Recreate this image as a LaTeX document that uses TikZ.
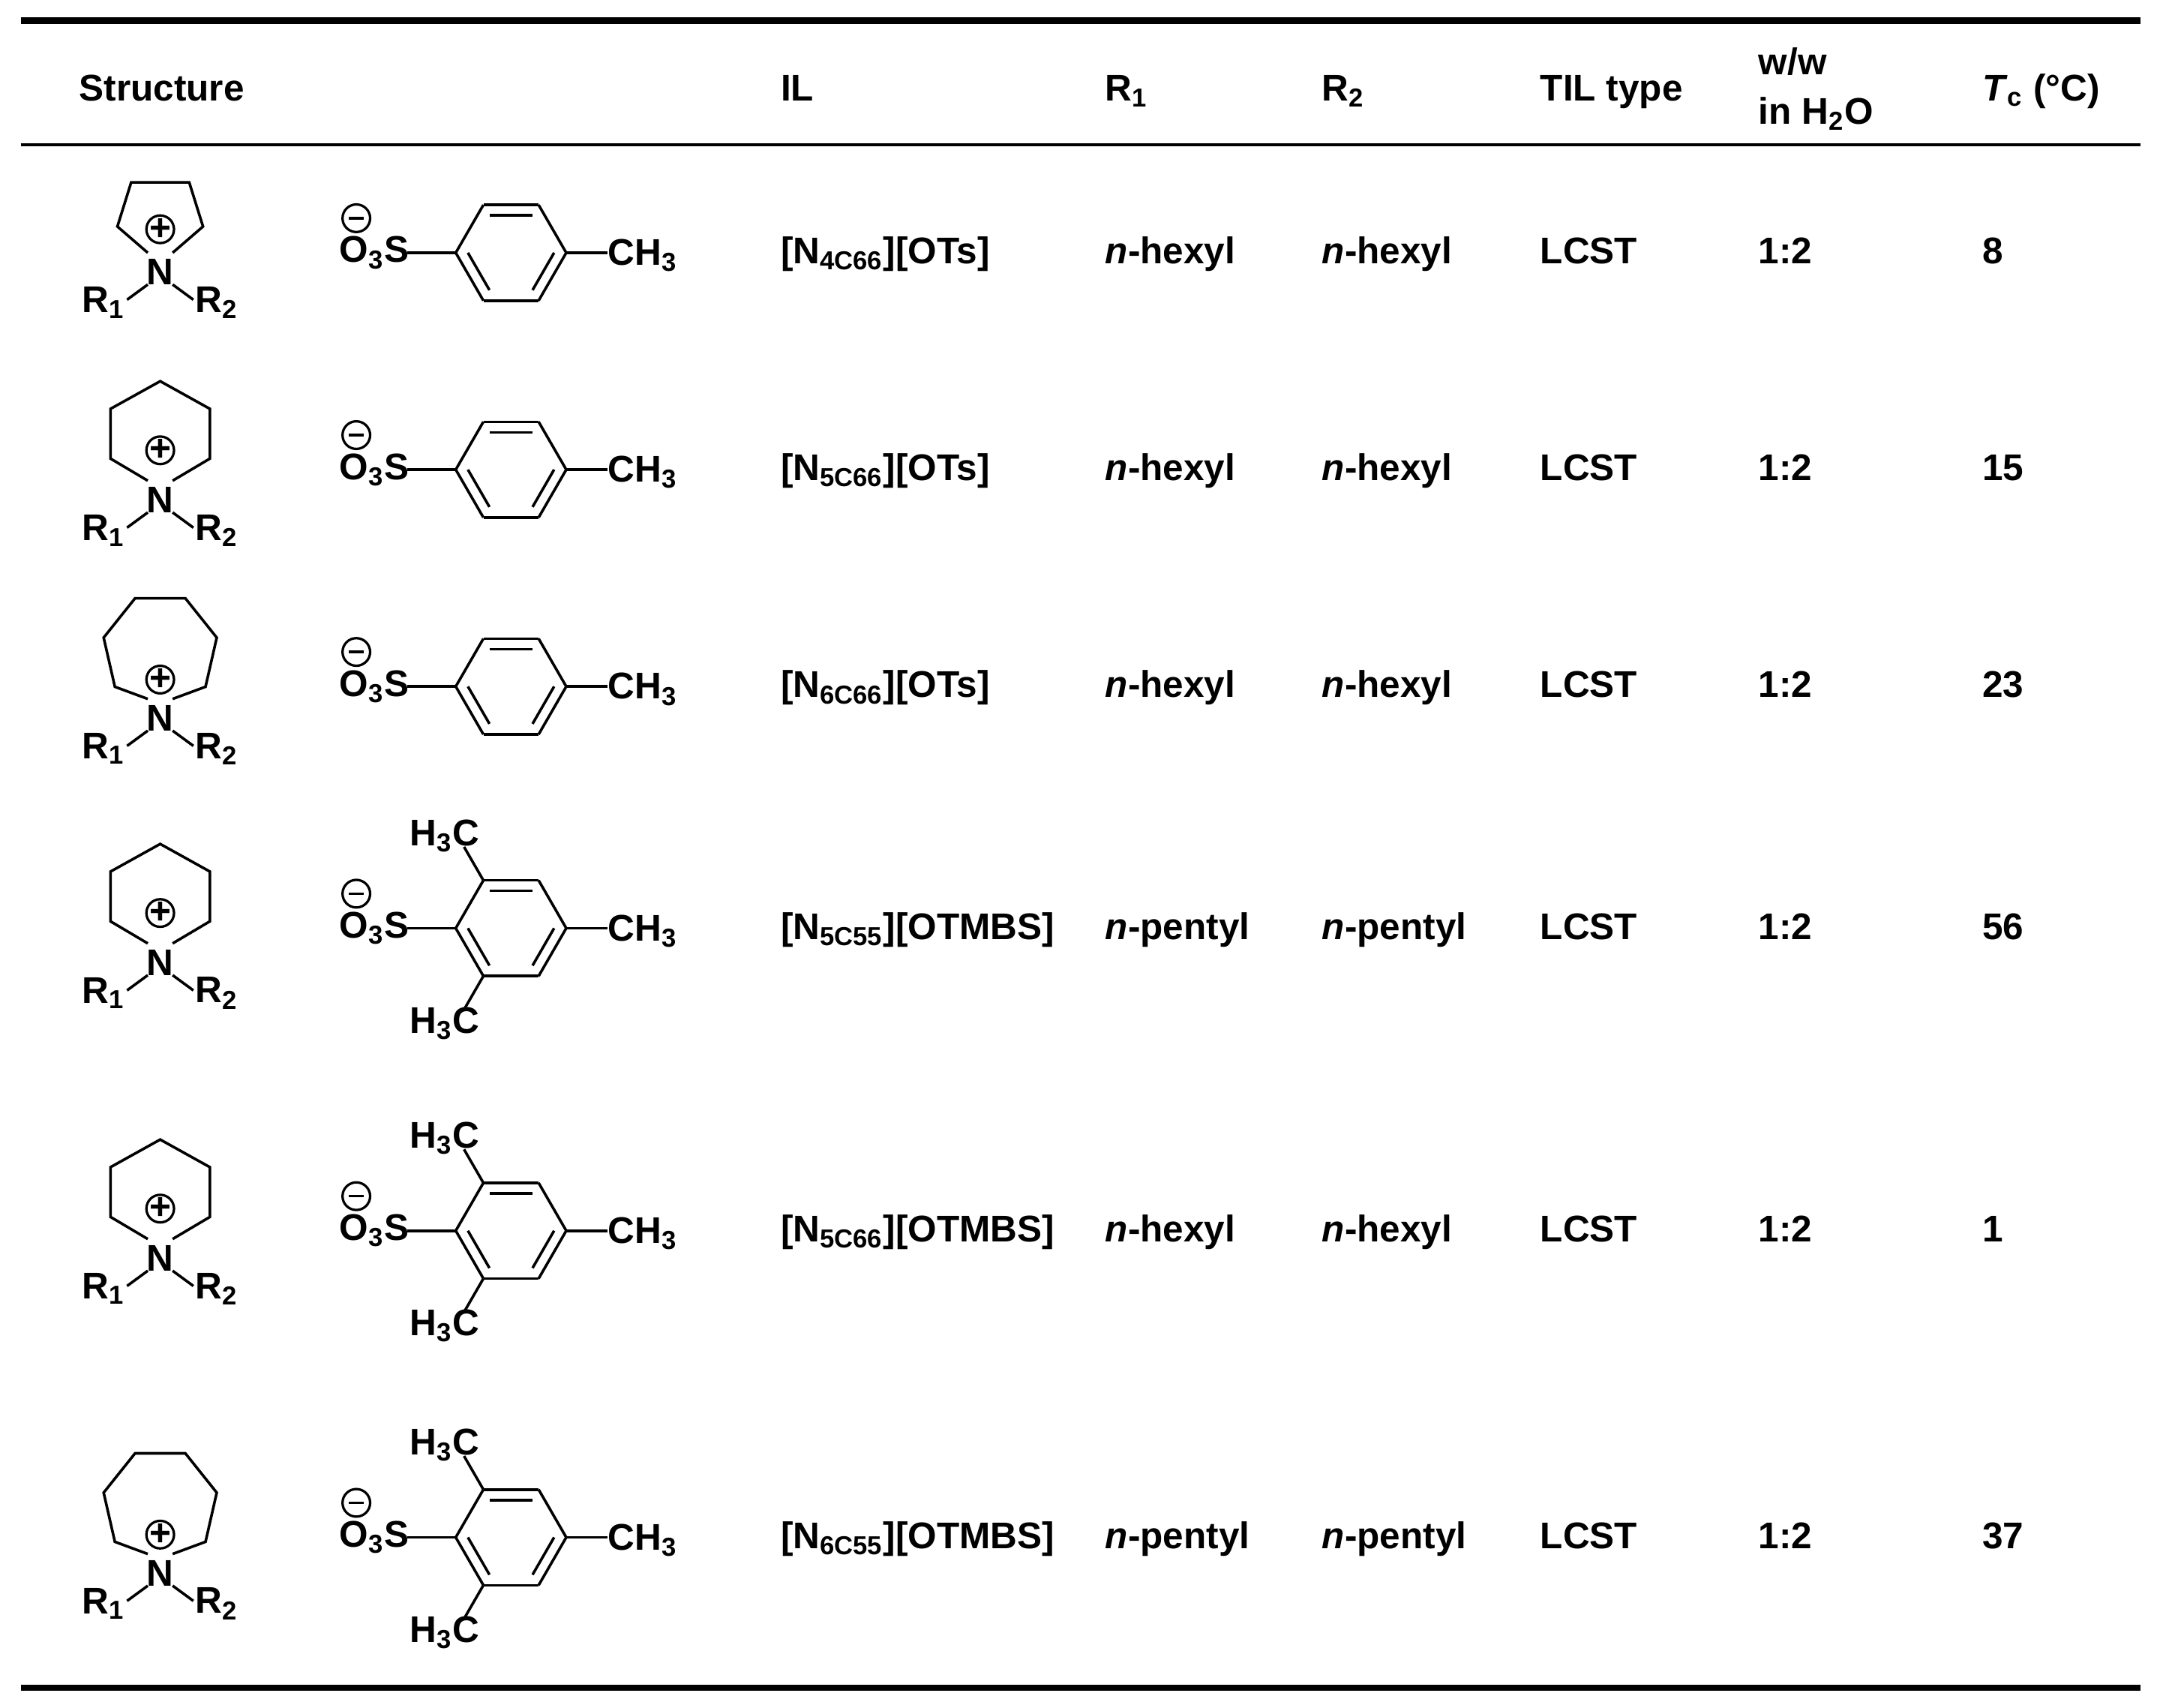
\documentclass[tikz,border=0pt]{standalone}
\usepackage{fontspec}
\setmainfont{Liberation Sans}
\usetikzlibrary{calc}
\newcommand{\sub}[1]{\textsubscript{#1}}
\newcommand{\cat}[3]{% type, x, y of N
 \begin{scope}[shift={(#2,#3)}]
 \node[lab] at (0,0) {N};
 \ifcase#1\or
  \draw[bond] (-9,-14)--(-31,-33)--(-21,-65)--(21,-65)--(31,-33)--(9,-14);
  \node[pm] at (0,-31) {};\node[lab] at (0,-31) {+};
 \or
  \draw[bond] (-9,-14)--(-36,-30)--(-36,-66)--(0,-86)--(36,-66)--(36,-30)--(9,-14);
  \node[pm] at (0,-36) {};\node[lab] at (0,-36) {+};
 \or
  \coordinate (c) at (0,-49);
  \draw[bond] (-9,-14)--($(c)+(141.4:42)$)--($(c)+(192.9:42)$)--($(c)+(244.3:42)$)--($(c)+(295.7:42)$)--($(c)+(347.1:42)$)--($(c)+(38.6:42)$)--(9,-14);
  \node[pm] at (0,-28) {};\node[lab] at (0,-28) {+};
 \fi
 \draw[bond] (-9,9)--(-24,20);\draw[bond] (9,9)--(24,20);
 \node[lab] at (-41,22) {R\sub{1}};
 \node[lab] at (41,22) {R\sub{2}};
 \end{scope}}
\newcommand{\ani}[3]{% mesityl?, y
 \begin{scope}[shift={(370,#2)}]
 \node[lab] at (-99,0) {O\sub{3}S};
 \node[pm] at (-112,-25) {};
 \draw[line width=1.1pt] (-117.5,-25)--(-106.5,-25);
 \draw[bond] (-75,0)--(-40,0);
 \foreach \a/\b in {0/60,60/120,120/180,180/240,240/300,300/360} \draw[bond] (\a:40)--(\b:40);
 \foreach \a/\b in {240/300,120/180,0/60} \draw[bond] ($(0,0)!0.78!(\a:40)$)--($(0,0)!0.78!(\b:40)$);
 \draw[bond] (40,0)--(70,0);
 \node[lab,anchor=west] at (70,2) {CH\sub{3}};
 \ifnum#1=1
  \draw[bond] (240:40)--(240:68);
  \draw[bond] (120:40)--(120:68);
  \node[lab] at (-48,-67) {H\sub{3}C};
  \node[lab] at (-48,69) {H\sub{3}C};
 \fi
 \end{scope}}
\begin{document}
\begin{tikzpicture}[x=0.02cm,y=-0.02cm,
 lab/.style={font=\fontsize{15.3}{18}\selectfont\bfseries,inner sep=0pt},
 pm/.style={draw,circle,minimum size=0.4cm,inner sep=0pt,line width=1pt},
 bond/.style={line width=1.1pt},
 rule/.style={line width=2.6pt}]
\useasboundingbox (0,0) rectangle (1564,1236);
\draw[rule] (15,15)--(1550,15);
\draw[line width=1.3pt] (15,105)--(1550,105);
\draw[rule] (15,1222)--(1550,1222);
\begin{scope}[every node/.style={lab,anchor=base west}]
\node at (57,73) {Structure};
\node at (565,73) {IL};
\node at (800,73) {R\sub{1}};
\node at (957,73) {R\sub{2}};
\node at (1115,73) {TIL type};
\node at (1273,54) {w/w};
\node at (1273,90) {in H\sub{2}O};
\node at (1435,73) {\textit{T}\sub{c} (°C)};
\foreach \y/\il/\r/\t in {183/{[N\sub{4C66}][OTs]}/hexyl/8, 340/{[N\sub{5C66}][OTs]}/hexyl/15, 497/{[N\sub{6C66}][OTs]}/hexyl/23, 672/{[N\sub{5C55}][OTMBS]}/pentyl/56, 891/{[N\sub{5C66}][OTMBS]}/hexyl/1, 1113/{[N\sub{6C55}][OTMBS]}/pentyl/37}{
 \node at (565,\y+8) {\il};
 \node at (800,\y+8) {\textit{n}-\r};
 \node at (957,\y+8) {\textit{n}-\r};
 \node at (1115,\y+8) {LCST};
 \node at (1273,\y+8) {1:2};
 \node at (1435,\y+8) {\t};
}
\end{scope}
\cat{1}{116}{197}\cat{2}{116}{362}\cat{3}{116}{520}
\cat{2}{116}{697}\cat{2}{116}{911}\cat{3}{116}{1139}
\ani{0}{183}{}\ani{0}{340}{}\ani{0}{497}{}
\ani{1}{672}{}\ani{1}{891}{}\ani{1}{1113}{}
\end{tikzpicture}
\end{document}
